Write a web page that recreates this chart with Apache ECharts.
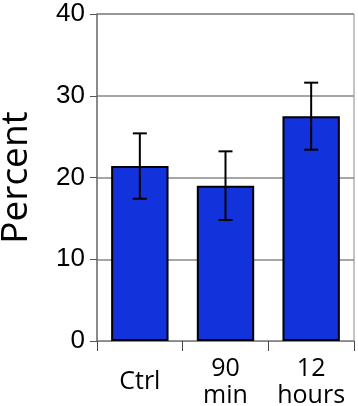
<!DOCTYPE html>
<html lang="en">
<head>
    <meta charset="UTF-8">
    <title>Percent</title>
    <script src="https://cdn.jsdelivr.net/npm/echarts@6/dist/echarts.min.js"></script>
    <style>
        html, body { margin: 0; padding: 0; background: #fff; }
        #main { width: 358px; height: 406px; }
    </style>
</head>
<body>
<div id="main"></div>
<script type="text/javascript">
    const categories = ['Ctrl', '90\nmin', '12\nhours'];
    const values = [21.4, 19.0, 27.5];
    const errors = [4.0, 4.2, 4.1];
    const yTicks = [0, 10, 20, 30, 40];

    function init() {
        let myChart = echarts.init(document.getElementById('main'));
        const errData = categories.map(function (c, i) {
            return [i, values[i] - errors[i], values[i] + errors[i]];
        });
        const option = {
            animation: false,
            grid: {
                left: 97, right: 4, top: 14, bottom: 65,
                containLabel: false, outerBoundsMode: 'none',
                show: true, borderColor: '#888', borderWidth: 1
            },
            xAxis: {
                type: 'category',
                data: categories,
                axisLine: { show: true, lineStyle: { color: '#888', width: 1 } },
                axisTick: { show: true, alignWithLabel: false, length: 10, lineStyle: { color: '#444', width: 1 } },
                axisLabel: {
                    interval: 0, hideOverlap: false,
                    color: '#000', fontSize: 25, fontFamily: 'Open Sans',
                    lineHeight: 27, verticalAlign: 'middle', margin: 41
                }
            },
            yAxis: {
                type: 'value',
                min: yTicks[0], max: yTicks[yTicks.length - 1], interval: 10,
                name: 'Percent',
                nameLocation: 'middle',
                nameGap: 62,
                nameTextStyle: { color: '#000', fontSize: 37, fontFamily: 'Open Sans' },
                axisLine: { show: true, lineStyle: { color: '#777', width: 1.5 } },
                axisTick: { show: true, length: 7, lineStyle: { color: '#555', width: 1 } },
                axisLabel: { color: '#000', fontSize: 26, fontFamily: 'Liberation Sans', margin: 12 },
                splitLine: { show: true, lineStyle: { color: '#888', width: 1.5 } }
            },
            series: [
                {
                    type: 'bar',
                    data: values,
                    barWidth: '67%',
                    itemStyle: { color: '#1232dc', borderColor: '#000', borderWidth: 2 },
                    z: 2
                },
                {
                    type: 'custom',
                    data: errData,
                    z: 3,
                    renderItem: function (params, api) {
                        const x = api.value(0);
                        const lo = api.coord([x, api.value(1)]);
                        const hi = api.coord([x, api.value(2)]);
                        const hw = 7;
                        const st = { stroke: '#000', lineWidth: 2, fill: null };
                        return {
                            type: 'group',
                            children: [
                                { type: 'line', shape: { x1: hi[0], y1: hi[1], x2: lo[0], y2: lo[1] }, style: st },
                                { type: 'line', shape: { x1: hi[0] - hw, y1: hi[1], x2: hi[0] + hw, y2: hi[1] }, style: st },
                                { type: 'line', shape: { x1: lo[0] - hw, y1: lo[1], x2: lo[0] + hw, y2: lo[1] }, style: st }
                            ]
                        };
                    }
                }
            ]
        };
        myChart.setOption(option);
    }
    init();
</script>
</body>
</html>
